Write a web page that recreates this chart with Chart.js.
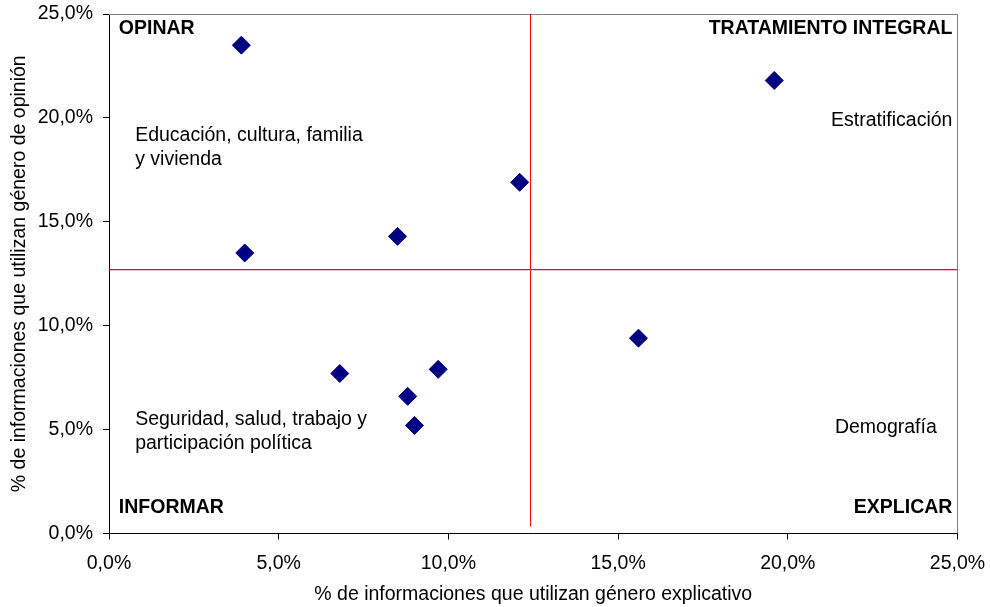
<!DOCTYPE html>
<html>
<head>
<meta charset="utf-8">
<script src="https://cdn.jsdelivr.net/npm/chart.js@4/dist/chart.umd.min.js"></script>
<style>
  html, body { margin: 0; padding: 0; background: #ffffff; }
  #wrap { width: 990px; height: 607px; position: relative; }
</style>
</head>
<body>
<div id="wrap"><canvas id="chart"></canvas></div>
<script>
// % of news items using the explanatory genre (x) and the opinion genre (y), one point per topic
const explicativo = [3.9, 19.6, 12.1, 8.5, 4.0, 15.6, 6.8, 9.7, 8.8, 9.0];
const opinion     = [23.5, 21.8, 16.9, 14.3, 13.5, 9.4, 7.7, 7.9, 6.6, 5.2];

// Average values that split the plane into four quadrants
const mediaExplicativo = 12.42;
const mediaOpinion = 12.7;
const inicioLineaVertical = 0.33;

// Axis range and tick marks (percent)
const ejeMin = 0;
const ejeMax = 25;
const ejePaso = 5;

// Texts written inside the plot
const cuadrantes = ['OPINAR', 'TRATAMIENTO INTEGRAL', 'INFORMAR', 'EXPLICAR'];
const temas = [
  ['Educación, cultura, familia', 'y vivienda'],
  ['Estratificación'],
  ['Seguridad, salud, trabajo y', 'participación política'],
  ['Demografía']
];
const tituloX = '% de informaciones que utilizan género explicativo';
const tituloY = '% de informaciones que utilizan género de opinión';

const FONT = '"Liberation Sans", Arial, sans-serif';
const SIZE = 19.5;

const fmt = v => v.toFixed(1).replace('.', ',') + '%';

// Label anchors in data units (x %, baseline y %), with alignment
const textLayout = [
  { lines: [cuadrantes[0]], x: 0.29, y: 24.04, align: 'left', bold: true },
  { lines: [cuadrantes[1]], x: 24.85, y: 24.04, align: 'right', bold: true },
  { lines: [cuadrantes[2]], x: 0.29, y: 0.97, align: 'left', bold: true },
  { lines: [cuadrantes[3]], x: 24.85, y: 0.97, align: 'right', bold: true },
  { lines: temas[0], x: 0.77, y: 18.89, align: 'left', bold: false },
  { lines: temas[1], x: 24.85, y: 19.61, align: 'right', bold: false },
  { lines: temas[2], x: 0.77, y: 5.23, align: 'left', bold: false },
  { lines: temas[3], x: 24.39, y: 4.83, align: 'right', bold: false }
];

const frameAndTexts = {
  id: 'frameAndTexts',
  beforeDatasetsDraw(chart) {
    const { ctx, chartArea: a } = chart;
    ctx.save();
    ctx.strokeStyle = '#808080';
    ctx.lineWidth = 1;
    const t = Math.round(a.top) + 0.5;
    const r = Math.round(a.right) - 0.5;
    ctx.beginPath();
    ctx.moveTo(a.left, t);
    ctx.lineTo(r, t);
    ctx.lineTo(r, a.bottom);
    ctx.stroke();
    ctx.restore();
  },
  afterDatasetsDraw(chart) {
    const { ctx, scales: { x, y } } = chart;
    ctx.save();
    ctx.fillStyle = '#000000';
    ctx.textBaseline = 'alphabetic';
    const lineGap = 24;
    textLayout.forEach(t => {
      ctx.font = (t.bold ? 'bold ' : '') + SIZE + 'px ' + FONT;
      ctx.textAlign = t.align;
      const px = x.getPixelForValue(t.x);
      const py = y.getPixelForValue(t.y);
      t.lines.forEach((line, i) => ctx.fillText(line, px, py + i * lineGap));
    });
    ctx.restore();
  }
};

const puntos = explicativo.map((v, i) => ({ x: v, y: opinion[i] }));

new Chart(document.getElementById('chart'), {
  type: 'scatter',
  data: {
    datasets: [
      {
        label: 'Temas',
        data: puntos,
        pointStyle: 'rectRot',
        pointRadius: 9,
        pointHoverRadius: 9,
        backgroundColor: '#000080',
        borderColor: '#000080',
        borderWidth: 1,
        order: 1
      },
      {
        label: 'Media explicativo',
        data: [{ x: mediaExplicativo, y: inicioLineaVertical }, { x: mediaExplicativo, y: ejeMax }],
        showLine: true,
        pointRadius: 0,
        borderColor: 'rgb(255, 0, 0)',
        backgroundColor: 'rgb(255, 0, 0)',
        borderWidth: 1,
        order: 2
      },
      {
        label: 'Media opinión',
        data: [{ x: ejeMin, y: mediaOpinion }, { x: ejeMax, y: mediaOpinion }],
        showLine: true,
        pointRadius: 0,
        borderColor: 'rgb(255, 0, 0)',
        backgroundColor: 'rgb(255, 0, 0)',
        borderWidth: 1.2,
        order: 2
      }
    ]
  },
  options: {
    responsive: true,
    maintainAspectRatio: false,
    animation: false,
    events: [],
    layout: { padding: { left: 8, right: 32.5, top: 14, bottom: 1 } },
    plugins: {
      legend: { display: false },
      tooltip: { enabled: false }
    },
    scales: {
      x: {
        type: 'linear',
        min: ejeMin,
        max: ejeMax,
        afterFit(s) {
          s.height = 72.5;
          s.paddingLeft = 0;
          s.paddingRight = 0;
        },
        border: { color: '#000000', width: 1 },
        grid: { drawOnChartArea: false, drawTicks: true, tickLength: 6, tickColor: '#000000' },
        ticks: {
          stepSize: ejePaso,
          padding: 12,
          color: '#000000',
          font: { family: FONT, size: SIZE },
          maxRotation: 0,
          callback: v => fmt(v)
        },
        title: {
          display: true,
          text: tituloX,
          color: '#000000',
          font: { family: FONT, size: SIZE },
          padding: 0
        }
      },
      y: {
        type: 'linear',
        min: ejeMin,
        max: ejeMax,
        afterFit(s) {
          s.width = 101;
          s.paddingTop = 0;
          s.paddingBottom = 0;
        },
        border: { color: '#000000', width: 1 },
        grid: { drawOnChartArea: false, drawTicks: true, tickLength: 6, tickColor: '#000000' },
        ticks: {
          stepSize: ejePaso,
          padding: 10,
          color: '#000000',
          font: { family: FONT, size: SIZE },
          callback: v => fmt(v)
        },
        title: {
          display: true,
          text: tituloY,
          color: '#000000',
          font: { family: FONT, size: SIZE },
          padding: 0
        }
      }
    }
  },
  plugins: [frameAndTexts]
});
</script>
</body>
</html>
